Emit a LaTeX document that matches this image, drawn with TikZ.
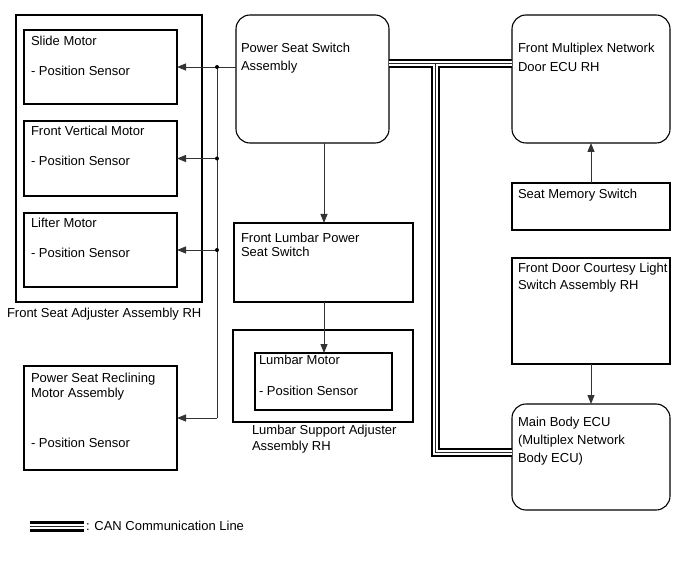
\documentclass[tikz,border=0pt]{standalone}
\usepackage{fontspec}
\setmainfont{Liberation Sans}
\usetikzlibrary{arrows.meta}
\begin{document}
\begin{tikzpicture}[x=1pt,y=-1pt,
  box/.style={draw=black,line width=1.1pt,inner sep=0pt,outer sep=0pt,anchor=north west},
  rbox/.style={box,rounded corners=14pt},
  txt/.style={inner sep=0pt,outer sep=0pt,anchor=base west,font=\fontsize{13}{15}\selectfont},
  conn/.style={draw=black!80,line width=0.9pt},
  arr/.style={conn,-{Triangle[length=9pt,width=7pt]}},
  canline/.style={draw=black,line width=9pt,
     postaction={draw=white,line width=4.5pt},
     postaction={draw=black!85,line width=0.9pt}},
  canleg/.style={draw=black,line width=11pt,
     postaction={draw=white,line width=5pt},
     postaction={draw=black!85,line width=1pt}},
  jdot/.style={fill=black}
]
\useasboundingbox (0,0) rectangle (690,561);
% left group
\node[box,minimum width=186pt,minimum height=287pt] (fsa) at (16,15) {};
\node[box,minimum width=153pt,minimum height=74pt] (sm) at (24,30) {};
\node[box,minimum width=153pt,minimum height=75pt] (fvm) at (24,121) {};
\node[box,minimum width=153pt,minimum height=74pt] (lfm) at (24,213) {};
\node[box,minimum width=153pt,minimum height=104pt] (rm) at (24,366) {};
\node[txt] (tsm1) at (31,46) {Slide Motor};
\node[txt] (tsm2) at (31,76) {- Position Sensor};
\node[txt] (tfv1) at (31,136) {Front Vertical Motor};
\node[txt] (tfv2) at (31,166) {- Position Sensor};
\node[txt] (tlf1) at (31,228) {Lifter Motor};
\node[txt] (tlf2) at (31,258) {- Position Sensor};
\node[txt] (tfsa) at (7,317) {Front Seat Adjuster Assembly RH};
\node[txt] (trm1) at (31,382) {Power Seat Reclining};
\node[txt] (trm2) at (31,397) {Motor Assembly};
\node[txt] (trm3) at (31,447) {- Position Sensor};
% middle group
\node[rbox,minimum width=153pt,minimum height=128pt] (pss) at (236,15) {};
\node[box,minimum width=179pt,minimum height=79pt] (flps) at (234,223) {};
\node[box,minimum width=180pt,minimum height=92pt] (lsa) at (233,330) {};
\node[box,minimum width=137pt,minimum height=57pt] (lmo) at (255,353) {};
\node[txt] (tpss1) at (241,52.7) {Power Seat Switch};
\node[txt] (tpss2) at (241,70.7) {Assembly};
\node[txt] (tfl1) at (241,242.7) {Front Lumbar Power};
\node[txt] (tfl2) at (241,256.7) {Seat Switch};
\node[txt] (tlm1) at (259,364.5) {Lumbar Motor};
\node[txt] (tlm2) at (259,395.5) {- Position Sensor};
\node[txt] (tlsa1) at (252,434.3) {Lumbar Support Adjuster};
\node[txt] (tlsa2) at (252,450) {Assembly RH};
% right group
\node[rbox,minimum width=158pt,minimum height=128pt] (door) at (512,15) {};
\node[box,minimum width=158pt,minimum height=47pt] (sms) at (512,183) {};
\node[box,minimum width=158pt,minimum height=106pt] (fdc) at (512,258) {};
\node[rbox,minimum width=158pt,minimum height=106pt] (mb) at (512,404) {};
\node[txt] (td1) at (518,53) {Front Multiplex Network};
\node[txt] (td2) at (518,71.5) {Door ECU RH};
\node[txt] (tsms) at (518,198.6) {Seat Memory Switch};
\node[txt] (tfdc1) at (518,272.6) {Front Door Courtesy Light};
\node[txt] (tfdc2) at (518,289.6) {Switch Assembly RH};
\node[txt] (tmb1) at (518,426.6) {Main Body ECU};
\node[txt] (tmb2) at (518,444.6) {(Multiplex Network};
\node[txt] (tmb3) at (518,462.6) {Body ECU)};
% junctions of the bus
\path (sm.east) ++(40,0) coordinate (j1);
\path (fvm.east) ++(40,0) coordinate (j2);
\path (lfm.east) ++(40,0) coordinate (j3);
\path (rm.east) ++(40,0) coordinate (j4);
\draw[arr] (pss.west |- j1) -- (sm.east);
\draw[conn] (j1) -- (j4);
\draw[arr] (j2) -- (fvm.east);
\draw[arr] (j3) -- (lfm.east);
\draw[arr] (j4) -- (rm.east);
\fill[jdot] (j1) circle (2);
\fill[jdot] (j2) circle (2);
\fill[jdot] (j3) circle (2);
% vertical arrows
\path (324,0) coordinate (ax);
\draw[arr] (ax |- pss.south) -- (ax |- flps.north);
\draw[arr] (ax |- flps.south) -- (ax |- lmo.north);
\draw[arr] (sms.north) -- (door.south);
\draw[arr] (fdc.south) -- (mb.north);
% CAN lines
\coordinate (cy) at (0,63.3);
\coordinate (cx) at (435.5,0);
\coordinate (cy2) at (0,452.5);
\draw[canline] (pss.east |- cy) -- (door.west |- cy)
  (cx |- cy) -- (cx |- cy2) -- (mb.west |- cy2);
% legend
\coordinate (lg1) at (30,526);
\coordinate (lg2) at (84,526);
\draw[canleg] (lg1) -- (lg2);
\node[txt] (tleg) at (86,530.5) {: CAN Communication Line};
\end{tikzpicture}
\end{document}
